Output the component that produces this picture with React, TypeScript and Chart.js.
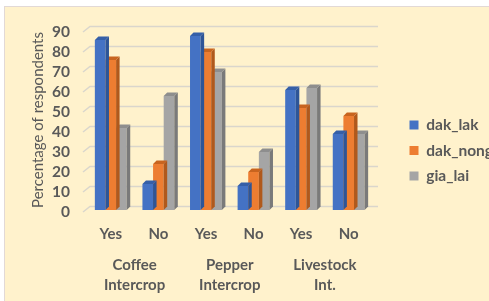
import React, { useEffect, useRef } from "react";
import { Chart, registerables } from "chart.js";

Chart.register(...registerables);

const categories = ["Yes", "No", "Yes", "No", "Yes", "No"];
const groups = [["Coffee", "Intercrop"], ["Pepper", "Intercrop"], ["Livestock", "Int."]];
const dakLak = [85, 13, 87, 12, 60, 38];
const dakNong = [75, 23, 79, 19, 51, 47];
const giaLai = [41, 57, 69, 29, 61, 38];
const seriesNames = ["dak_lak", "dak_nong", "gia_lai"];
const yTitle = "Percentage of respondents";

const FRONT = ["#4472C4", "#ED7D31", "#A5A5A5"];
const SIDE = ["#2E5597", "#B0591C", "#7A7A7A"];
const TOP = ["#355FA8", "#C8641F", "#8E8E8E"];
const D = 3.5;
const FONT = "Lato, 'Open Sans', sans-serif";
const TXT = "#595959";

const bar3d = {
  id: "bar3d",
  beforeDatasetsDraw(chart: any) {
    const { ctx, chartArea } = chart;
    const ys = chart.scales.y;
    ctx.save();
    ctx.strokeStyle = "#DAD6CC";
    ctx.lineWidth = 1.5;
    for (let v = 0; v <= 90; v += 10) {
      const p = ys.getPixelForValue(v);
      ctx.beginPath();
      ctx.moveTo(chartArea.left - 4, p + 2);
      ctx.lineTo(chartArea.left + 3, p - D);
      ctx.lineTo(chartArea.right + D + 2, p - D);
      ctx.stroke();
    }
    ctx.restore();
  },
  afterDatasetDraw(chart: any, args: any) {
    const { ctx } = chart;
    const i = args.index;
    const meta = chart.getDatasetMeta(i);
    ctx.save();
    meta.data.forEach((el: any) => {
      const p = el.getProps(["x", "y", "base", "width"], true);
      const l = p.x - p.width / 2;
      const r = p.x + p.width / 2;
      const t = p.y;
      const b = p.base;
      ctx.fillStyle = SIDE[i];
      ctx.beginPath();
      ctx.moveTo(r, t);
      ctx.lineTo(r + D, t - D);
      ctx.lineTo(r + D, b - D);
      ctx.lineTo(r, b);
      ctx.closePath();
      ctx.fill();
      ctx.fillStyle = TOP[i];
      ctx.beginPath();
      ctx.moveTo(l, t);
      ctx.lineTo(l + D, t - D);
      ctx.lineTo(r + D, t - D);
      ctx.lineTo(r, t);
      ctx.closePath();
      ctx.fill();
    });
    ctx.restore();
  },
};

export default function App() {
  const ref = useRef<HTMLCanvasElement>(null);
  useEffect(() => {
    document.body.style.margin = "0";
    const chart = new Chart(ref.current!, {
      type: "bar",
      data: {
        labels: categories,
        datasets: [dakLak, dakNong, giaLai].map((d, i) => ({
          label: seriesNames[i],
          data: d,
          backgroundColor: FRONT[i],
          borderWidth: 0,
          categoryPercentage: 0.67,
          barPercentage: 1,
        })),
      },
      options: {
        animation: false,
        responsive: false,
        devicePixelRatio: 1,
        layout: { padding: { top: 0, left: 29, right: -14, bottom: 0 } },
        plugins: {
          legend: {
            position: "right",
            maxWidth: 200,
            labels: {
              boxWidth: 9,
              boxHeight: 9,
              padding: 10,
              color: TXT,
              font: { family: FONT, size: 15.5, weight: "bold" },
            },
          },
          tooltip: { enabled: false },
        },
        scales: {
          x: {
            position: "bottom",
            grid: { display: false, drawTicks: false },
            border: { display: false },
            ticks: { color: TXT, padding: 15, font: { family: FONT, size: 15, weight: "bold" } },
            afterFit: (s: any) => { s.height = 32; },
          },
          x2: {
            type: "category",
            position: "bottom",
            offset: true,
            labels: groups as any,
            grid: { display: false, drawTicks: false },
            border: { display: false },
            ticks: { color: TXT, padding: 13, font: { family: FONT, size: 15, weight: "bold", lineHeight: 1.33 } },
            afterFit: (s: any) => { s.height = 59; },
          },
          xt: {
            type: "category",
            position: "top",
            grid: { display: false, drawTicks: false },
            border: { display: false },
            ticks: { display: false },
            afterFit: (s: any) => { s.height = 30; },
          },
          y: {
            min: 0,
            max: 90,
            grid: { display: false, drawTicks: false },
            border: { display: false },
            ticks: { stepSize: 10, autoSkip: false, color: TXT, padding: 17, labelOffset: 2, font: { family: FONT, size: 15.5, weight: "bold" } },
            title: { display: true, text: yTitle, color: TXT, padding: { top: 0, bottom: 0 }, font: { family: FONT, size: 15 } },
            afterFit: (s: any) => { s.width = 58; },
          },
          yr: {
            type: "linear",
            position: "right",
            display: true,
            grid: { display: false, drawTicks: false },
            border: { display: false },
            ticks: { display: false },
            afterFit: (s: any) => { s.width = 27; },
          },
        },
      },
      plugins: [bar3d],
    });
    return () => chart.destroy();
  }, []);
  return (
    <div style={{ position: "fixed", left: 0, top: 0, width: 489, height: 301, background: "#fff", overflow: "hidden" }}>
      <div style={{ position: "absolute", left: 4, top: 6, width: 500, height: 310, background: "#FFF2CC", border: "1.5px solid #E2D9D6", boxSizing: "border-box" }} />
      <canvas ref={ref} width={489} height={301} style={{ position: "absolute", left: 0, top: 0, width: 489, height: 301 }} />
    </div>
  );
}
